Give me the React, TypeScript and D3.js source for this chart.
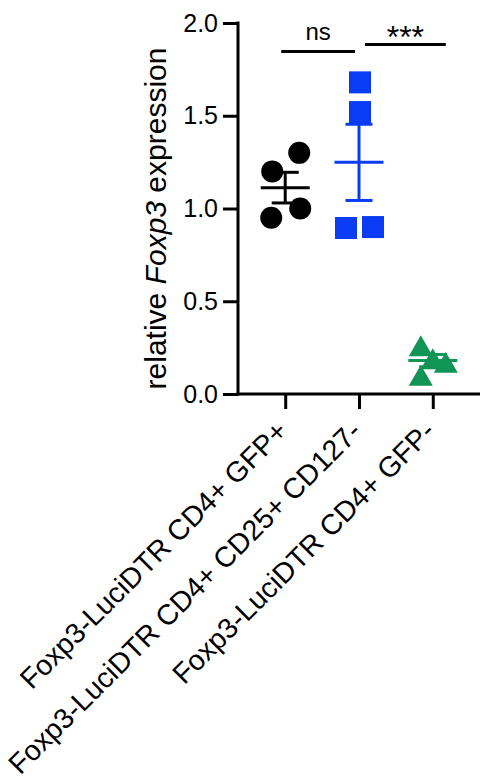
import React, { useEffect, useRef } from "react";
import * as d3 from "d3";

// group names (x axis)
const categories = [
  "Foxp3-LuciDTR CD4+ GFP+",
  "Foxp3-LuciDTR CD4+ CD25+ CD127-",
  "Foxp3-LuciDTR CD4+ GFP-",
];

// relative Foxp3 expression per sample
const gfpPos = [1.2, 1.3, 0.95, 1.0];
const cd25Pos = [1.68, 1.52, 0.895, 0.9];
const gfpNeg = [0.26, 0.19, 0.17, 0.1];

const yTicks = [0, 0.5, 1.0, 1.5, 2.0];

const comparisons = [
  { from: 0, to: 1, label: "ns" },
  { from: 1, to: 2, label: "***" },
];

const colors = ["#000000", "#0a3cf4", "#119456"];
const shapes = [d3.symbolCircle, d3.symbolSquare, d3.symbolTriangle];
const sizes = [380, 484, 250];
// horizontal scatter of points inside each column (px)
const jitter = [
  [-13, 14, -14, 15],
  [1, 1, -13, 14],
  [-12, 0, 13, -12],
];

const W = 482;
const H = 782;
const FONT = "Arial, 'Liberation Sans', sans-serif";

export default function App() {
  const ref = useRef<SVGSVGElement>(null);

  useEffect(() => {
    const svg = d3.select(ref.current);
    svg.selectAll("*").remove();

    const groups = [gfpPos, cd25Pos, gfpNeg];
    const left = 238;
    const right = 480;
    const top = 23;
    const bottom = 394;

    const x = d3.scalePoint<number>().domain([0, 1, 2]).range([left, right]).padding(0.64);
    const y = d3.scaleLinear().domain([0, 2]).range([bottom, top]);

    const g = svg.append("g");

    // y axis
    const yAxis = g
      .append("g")
      .attr("transform", `translate(${left},0)`)
      .call(d3.axisLeft(y).tickValues(yTicks).tickSize(15).tickPadding(5).tickFormat(d3.format(".1f")));
    yAxis.select(".domain").attr("d", `M0,${top - 1.5}V${bottom + 1.5}`);
    yAxis.selectAll("line, path").attr("stroke", "#000").attr("stroke-width", 3);
    yAxis.selectAll("text").attr("font-size", 25).attr("font-family", FONT).attr("fill", "#000");

    // x axis
    const xAxis = g
      .append("g")
      .attr("transform", `translate(0,${bottom})`)
      .call(d3.axisBottom(x).tickSize(15).tickFormat(() => ""));
    xAxis.select(".domain").attr("d", `M${left - 1.5},0H${right}`);
    xAxis.selectAll("line, path").attr("stroke", "#000").attr("stroke-width", 3);

    // rotated category labels
    g.append("g")
      .selectAll("text")
      .data(categories)
      .join("text")
      .attr("transform", (d, i) => `translate(${x(i)! + 4},${bottom + 39}) rotate(-45)`)
      .attr("text-anchor", "end")
      .attr("font-size", 28.5)
      .attr("font-family", FONT)
      .text((d) => d);

    // y title
    const title = g
      .append("text")
      .attr("transform", `translate(166,${(top + bottom) / 2 + 10}) rotate(-90)`)
      .attr("text-anchor", "middle")
      .attr("font-size", 30)
      .attr("font-family", FONT);
    title.append("tspan").text("relative ");
    title.append("tspan").attr("font-style", "italic").text("Foxp3");
    title.append("tspan").text(" expression");

    // points
    groups.forEach((vals, gi) => {
      const sym = d3.symbol().type(shapes[gi]).size(sizes[gi]);
      // triangles are centred on their bounding box
      const side = Math.sqrt((sizes[gi] * 4) / Math.sqrt(3));
      const dy = gi === 2 ? (side * Math.sqrt(3)) / 2 / 6 : 0;
      g.append("g")
        .selectAll("path")
        .data(vals)
        .join("path")
        .attr("d", sym()!)
        .attr("transform", (d, i) => `translate(${x(gi)! + jitter[gi][i]},${y(d) + dy})`)
        .attr("fill", colors[gi]);
    });

    // mean and SEM
    groups.forEach((vals, gi) => {
      const m = d3.mean(vals)!;
      const sem = d3.deviation(vals)! / Math.sqrt(vals.length);
      const cx = x(gi)!;
      const eg = g.append("g").attr("stroke", colors[gi]).attr("stroke-width", 3).attr("fill", "none");
      eg.append("line").attr("x1", cx).attr("x2", cx).attr("y1", y(m - sem)).attr("y2", y(m + sem));
      [m - sem, m + sem].forEach((v) =>
        eg.append("line").attr("x1", cx - 13.5).attr("x2", cx + 13.5).attr("y1", y(v)).attr("y2", y(v))
      );
      eg.append("line").attr("x1", cx - 24.5).attr("x2", cx + 24.5).attr("y1", y(m)).attr("y2", y(m));
    });

    // significance bars
    const barY = [51.5, 44.5];
    const barX = [
      [-4, -4],
      [6, 13],
    ];
    comparisons.forEach((c, i) => {
      const x1 = x(c.from)! + barX[i][0];
      const x2 = x(c.to)! + barX[i][1];
      g.append("line")
        .attr("x1", x1)
        .attr("x2", x2)
        .attr("y1", barY[i])
        .attr("y2", barY[i])
        .attr("stroke", "#000")
        .attr("stroke-width", 3);
      g.append("text")
        .attr("x", (x1 + x2) / 2)
        .attr("y", c.label === "ns" ? barY[i] - 11.5 : barY[i] + 3)
        .attr("text-anchor", "middle")
        .attr("font-size", c.label === "ns" ? 24 : 32)
        .attr("font-family", FONT)
        .text(c.label);
    });
  }, []);

  return (
    <svg
      ref={ref}
      width={W}
      height={H}
      style={{ position: "absolute", left: 0, top: 0, background: "#fff" }}
    />
  );
}
